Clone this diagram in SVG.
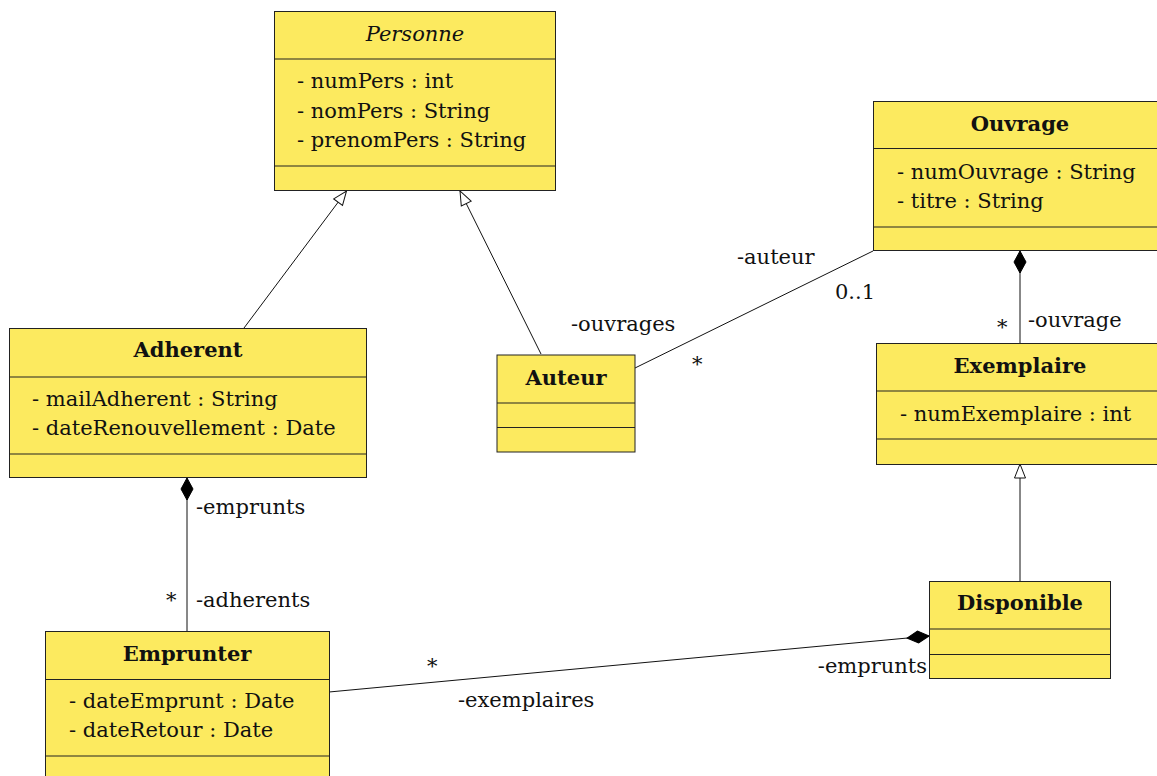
<svg xmlns="http://www.w3.org/2000/svg" width="1157" height="776" viewBox="0 0 1157 776">
<style>
  .box{fill:#fcea5f;stroke:#222;stroke-width:1}
  .sep{stroke:#222;stroke-width:1}
  text{font-family:"DejaVu Serif","Liberation Serif",serif;font-size:21px;fill:#111}
  .title{font-weight:bold;text-anchor:middle}
  .ital{font-style:italic;text-anchor:middle}
  .end{text-anchor:end}
  .conn{stroke:#111;stroke-width:1;fill:none}
</style>
<defs>
  <marker id="gen" markerUnits="userSpaceOnUse" markerWidth="20" markerHeight="16" viewBox="-16 -8 20 16" refX="0" refY="0" orient="auto">
    <path d="M-14,-5.5 L0,0 L-14,5.5 Z" fill="#fff" stroke="#111" stroke-width="1"/>
  </marker>
  <marker id="comp" markerUnits="userSpaceOnUse" markerWidth="28" markerHeight="16" viewBox="-25 -8 28 16" refX="0" refY="0" orient="auto">
    <path d="M0,0 L-11,-6 L-22,0 L-11,6 Z" fill="#000" stroke="#000" stroke-width="1"/>
  </marker>
</defs>
<rect width="1157" height="776" fill="#fff"/>

<g id="connectors">
  <line class="conn" x1="244" y1="328" x2="346.5" y2="191" marker-end="url(#gen)"/>
  <line class="conn" x1="541" y1="354" x2="460" y2="191" marker-end="url(#gen)"/>
  <line class="conn" x1="635" y1="368" x2="873" y2="251"/>
  <line class="conn" x1="1020" y1="343" x2="1020" y2="251" marker-end="url(#comp)"/>
  <line class="conn" x1="1020" y1="581" x2="1020" y2="464" marker-end="url(#gen)"/>
  <line class="conn" x1="187" y1="631" x2="187" y2="478" marker-end="url(#comp)"/>
  <line class="conn" x1="329" y1="692" x2="929" y2="636" marker-end="url(#comp)"/>
  <text x="737" y="264">-auteur</text>
  <text x="835" y="299">0..1</text>
  <text x="571" y="331">-ouvrages</text>
  <text x="692" y="371">*</text>
  <text x="997" y="334">*</text>
  <text x="1028" y="327">-ouvrage</text>
  <text x="196" y="514">-emprunts</text>
  <text x="166" y="607">*</text>
  <text x="196" y="607">-adherents</text>
  <text x="427" y="673">*</text>
  <text x="458" y="707">-exemplaires</text>
  <text class="end" x="927" y="673">-emprunts</text>
</g>

<g id="Personne">
  <rect class="box" x="274.5" y="11.5" width="281" height="179"/>
  <line class="sep" x1="274.5" y1="59" x2="555.5" y2="59"/>
  <line class="sep" x1="274.5" y1="166" x2="555.5" y2="166"/>
  <text class="ital" x="415" y="41">Personne</text>
  <text x="297" y="88">- numPers : int</text>
  <text x="297" y="118">- nomPers : String</text>
  <text x="297" y="147">- prenomPers : String</text>
</g>

<g id="Ouvrage">
  <rect class="box" x="873.5" y="101.5" width="294" height="149"/>
  <line class="sep" x1="873.5" y1="148.5" x2="1167" y2="148.5"/>
  <line class="sep" x1="873.5" y1="227" x2="1167" y2="227"/>
  <text class="title" x="1020" y="131">Ouvrage</text>
  <text x="897" y="179">- numOuvrage : String</text>
  <text x="897" y="208">- titre : String</text>
</g>

<g id="Adherent">
  <rect class="box" x="9.5" y="328.5" width="357" height="149"/>
  <line class="sep" x1="9.5" y1="377" x2="366.5" y2="377"/>
  <line class="sep" x1="9.5" y1="454" x2="366.5" y2="454"/>
  <text class="title" x="188" y="357">Adherent</text>
  <text x="32" y="406">- mailAdherent : String</text>
  <text x="32" y="435">- dateRenouvellement : Date</text>
</g>

<g id="Auteur">
  <rect class="box" x="497" y="355" width="138" height="97"/>
  <line class="sep" x1="497" y1="403" x2="635" y2="403"/>
  <line class="sep" x1="497" y1="427.5" x2="635" y2="427.5"/>
  <text class="title" x="566" y="385">Auteur</text>
</g>

<g id="Exemplaire">
  <rect class="box" x="876.5" y="343.5" width="287" height="121"/>
  <line class="sep" x1="876.5" y1="391" x2="1163.5" y2="391"/>
  <line class="sep" x1="876.5" y1="439" x2="1163.5" y2="439"/>
  <text class="title" x="1020" y="373">Exemplaire</text>
  <text x="900" y="421">- numExemplaire : int</text>
</g>

<g id="Disponible">
  <rect class="box" x="929.5" y="581.5" width="181" height="97"/>
  <line class="sep" x1="929.5" y1="629" x2="1110.5" y2="629"/>
  <line class="sep" x1="929.5" y1="654.5" x2="1110.5" y2="654.5"/>
  <text class="title" x="1020" y="610">Disponible</text>
</g>

<g id="Emprunter">
  <rect class="box" x="45.5" y="631.5" width="284" height="149"/>
  <line class="sep" x1="45.5" y1="679.5" x2="329.5" y2="679.5"/>
  <line class="sep" x1="45.5" y1="756" x2="329.5" y2="756"/>
  <text class="title" x="187" y="661">Emprunter</text>
  <text x="69" y="708">- dateEmprunt : Date</text>
  <text x="69" y="737">- dateRetour : Date</text>
</g>
</svg>
